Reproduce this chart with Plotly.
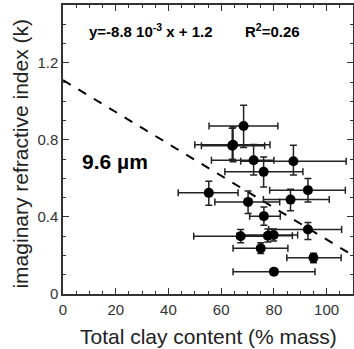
import plotly.graph_objects as go

# Data
clay = [68.5, 64.5, 64.2, 72.3, 87.4, 76.1, 55.3, 92.9, 70.2, 86.3, 76.2, 67.4, 77.7, 79.9, 92.9, 75.0, 95.0, 80.0]
k = [0.872, 0.775, 0.770, 0.694, 0.689, 0.634, 0.525, 0.539, 0.478, 0.490, 0.404, 0.300, 0.302, 0.306, 0.335, 0.237, 0.188, 0.116]
clay_low = [55.4, 50.0, 52.5, 56.3, 67.4, 61.4, 43.7, 78.4, 57.6, 76.0, 70.8, 49.6, 66.0, 68.0, 78.0, 64.5, 84.9, 64.5]
clay_high = [81.5, 78.5, 76.5, 80.0, 107.4, 91.0, 66.4, 107.1, 82.2, 101.0, 82.4, 78.0, 87.0, 89.0, 105.7, 85.3, 105.5, 95.6]
k_low = [0.76, 0.686, 0.70, 0.617, 0.617, 0.556, 0.46, 0.478, 0.418, 0.432, 0.357, 0.266, 0.27, 0.275, 0.283, 0.21, 0.162, 0.10]
k_high = [0.98, 0.867, 0.86, 0.776, 0.772, 0.711, 0.585, 0.60, 0.534, 0.544, 0.452, 0.335, 0.337, 0.337, 0.371, 0.266, 0.211, 0.13]

fit_x = [0, 110]
fit_y = [1.11, 0.20]

x_title = "Total clay content (% mass)"
y_title = "imaginary refractive index (k)"

ex_plus = [h - c for h, c in zip(clay_high, clay)]
ex_minus = [c - l for c, l in zip(clay, clay_low)]
ey_plus = [h - c for h, c in zip(k_high, k)]
ey_minus = [c - l for c, l in zip(k, k_low)]

fig = go.Figure()
fig.add_trace(go.Scatter(x=fit_x, y=fit_y, mode="lines",
                         line=dict(color="black", width=2, dash="dash"),
                         showlegend=False, hoverinfo="skip"))
fig.add_trace(go.Scatter(
    x=clay, y=k, mode="markers",
    marker=dict(color="black", size=10),
    error_x=dict(type="data", symmetric=False, array=ex_plus, arrayminus=ex_minus,
                 color="#222", thickness=1.5, width=3.5),
    error_y=dict(type="data", symmetric=False, array=ey_plus, arrayminus=ey_minus,
                 color="#222", thickness=1.5, width=3.5),
    showlegend=False))

font_family = "Liberation Sans, Arial, sans-serif"

axis_common = dict(showline=True, linecolor="#333", linewidth=1.5, mirror="ticks",
                   ticks="inside", ticklen=6, tickwidth=1.2, tickcolor="#333",
                   showgrid=False, zeroline=False, automargin=False,
                   tickfont=dict(size=15, color="#333", family=font_family))

fig.update_xaxes(range=[0, 110], dtick=20, tick0=0, ticklabelstandoff=1,
                 minor=dict(dtick=5, ticks="inside", ticklen=3, tickcolor="#333", showgrid=False),
                 **axis_common)
fig.update_yaxes(range=[0, 1.5], dtick=0.4, tick0=0,
                 minor=dict(dtick=0.1, ticks="inside", ticklen=3, tickcolor="#333", showgrid=False),
                 **axis_common)

# axis titles
fig.add_annotation(x=0.5, y=0, xref="paper", yref="paper", xanchor="center", yanchor="middle",
                   yshift=-42, text=x_title, showarrow=False,
                   font=dict(size=21, color="#222", family=font_family))
fig.add_annotation(x=0, y=0.486, xref="paper", yref="paper", xanchor="center", yanchor="middle",
                   xshift=-42, textangle=-90, text=y_title, showarrow=False,
                   font=dict(size=21, color="#222", family=font_family))

fig.add_annotation(x=9.2, y=1.368, xref="x", yref="y", xanchor="left", yanchor="middle",
                   text="<b>y=-8.8 10<sup>-3</sup> x + 1.2</b>", showarrow=False,
                   font=dict(size=15, color="black", family=font_family))
fig.add_annotation(x=68.2, y=1.368, xref="x", yref="y", xanchor="left", yanchor="middle",
                   text="<b>R<sup>2</sup>=0.26</b>", showarrow=False,
                   font=dict(size=15, color="black", family=font_family))
fig.add_annotation(x=6.5, y=0.69, xref="x", yref="y", xanchor="left", yanchor="middle",
                   text="<b>9.6 µm</b>", showarrow=False,
                   font=dict(size=21, color="black", family=font_family))

fig.update_layout(width=354, height=349, margin=dict(l=63, r=1, t=5, b=55),
                  paper_bgcolor="white", plot_bgcolor="white")

fig.write_html("out.html", config={"displayModeBar": False},
               post_script="document.body.style.margin='0';")
